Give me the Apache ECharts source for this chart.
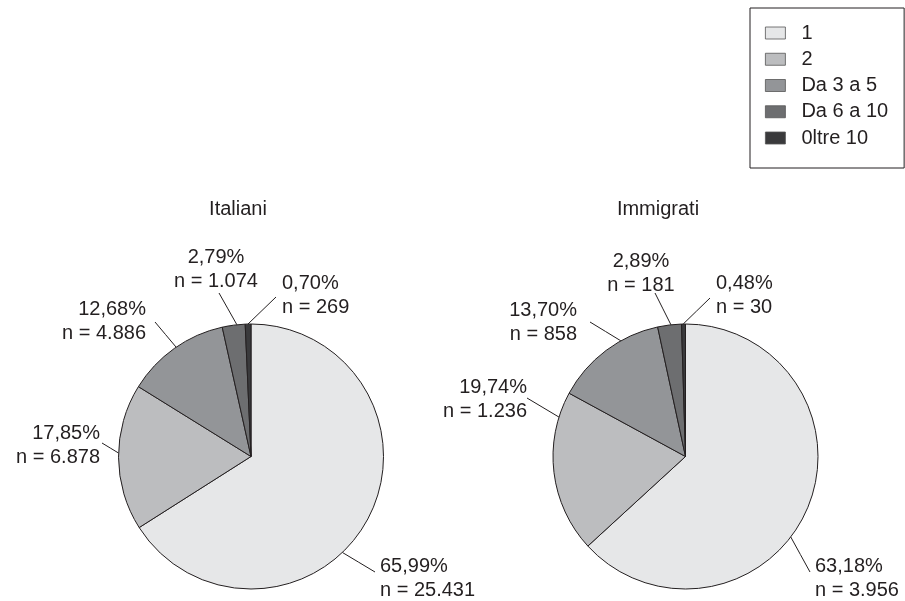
<!DOCTYPE html>
<html>
<head>
<meta charset="utf-8">
<script src="https://cdn.jsdelivr.net/npm/echarts@6/dist/echarts.min.js"></script>
<style>
  html, body { margin: 0; padding: 0; background: #fff; }
  #chart { width: 905px; height: 601px; }
</style>
</head>
<body>
<div id="chart"></div>
<script>
const categories = ["1", "2", "Da 3 a 5", "Da 6 a 10", "0ltre 10"];
const italiani = [25431, 6878, 4886, 1074, 269];
const immigrati = [3956, 1236, 858, 181, 30];
const groups = ["Italiani", "Immigrati"];

const colors = ["#e6e7e8", "#bcbdbf", "#939598", "#6d6e70", "#3a3a3c"];
const font = "'Liberation Sans', Arial, Helvetica, sans-serif";

const centers = [[251, 456.5], [685.5, 456.5]];
const radius = 132.5;

// label anchors [x, y, align] per pie, per slice
const labelPos = [
  [[380, 578, "left"], [100, 445, "right"], [146, 321, "right"], [216, 269, "center"], [282, 295, "left"]],
  [[815, 578, "left"], [527, 399, "right"], [577, 322, "right"], [641, 273, "center"], [716, 295, "left"]]
];
// leader lines: [angle on rim (deg, clockwise from top), end x, end y]
const leaders = [
  [[136.4, 375, 572], [271.5, 102, 443], [325.6, 155, 322], [353.9, 219, 293], [358.7, 276, 297]],
  [[127.4, 810, 572], [287.3, 527, 398], [330.8, 590, 322], [353.7, 655, 293], [359.0, 710, 298]]
];

function fmtN(v) {
  return String(v).replace(/\B(?=(\d{3})+(?!\d))/g, ".");
}

function makeSeries(name, values, idx) {
  const total = values.reduce((a, b) => a + b, 0);
  const c = centers[idx];
  return {
    name: name,
    type: "pie",
    center: c,
    radius: radius,
    startAngle: 90,
    clockwise: true,
    avoidLabelOverlap: false,
    silent: true,
    data: values.map((v, i) => ({
      name: categories[i],
      value: v,
      itemStyle: { color: colors[i] }
    })),
    itemStyle: { borderColor: "#231f20", borderWidth: 1 },
    label: {
      position: "outside",
      fontFamily: font,
      fontSize: 20,
      lineHeight: 24,
      color: "#231f20",
      formatter: p => (p.value / total * 100).toFixed(2).replace(".", ",") + "%\nn = " + fmtN(p.value)
    },
    labelLine: {
      show: true,
      length: 15,
      length2: 0,
      lineStyle: { color: "#231f20", width: 1 }
    },
    labelLayout: function (params) {
      const pos = labelPos[idx][params.dataIndex];
      const g = leaders[idx][params.dataIndex];
      const a = g[0] * Math.PI / 180;
      const start = [c[0] + radius * Math.sin(a), c[1] - radius * Math.cos(a)];
      return {
        x: pos[0], y: pos[1], align: pos[2], verticalAlign: "middle",
        labelLinePoints: [start, [(start[0] + g[1]) / 2, (start[1] + g[2]) / 2], [g[1], g[2]]]
      };
    }
  };
}

const chart = echarts.init(document.getElementById("chart"));
chart.setOption({
  animation: false,
  color: colors,
  title: [
    { text: groups[0], left: 233, top: 194, textAlign: "center",
      textStyle: { fontFamily: font, fontSize: 20, fontWeight: "normal", color: "#231f20" } },
    { text: groups[1], left: 653, top: 194, textAlign: "center",
      textStyle: { fontFamily: font, fontSize: 20, fontWeight: "normal", color: "#231f20" } }
  ],
  legend: {
    orient: "vertical",
    left: 750,
    top: 8,
    padding: [15, 16, 20, 15],
    borderColor: "#231f20",
    borderWidth: 1,
    icon: "rect",
    itemWidth: 20,
    itemHeight: 12,
    itemGap: 6.25,
    data: categories,
    itemStyle: { borderColor: "#555", borderWidth: 0.8 },
    textStyle: {
      fontFamily: font,
      fontSize: 20,
      lineHeight: 20,
      color: "#231f20",
      padding: [0, 0, 0, 11]
    }
  },
  series: [
    makeSeries(groups[0], italiani, 0),
    makeSeries(groups[1], immigrati, 1)
  ]
});
</script>
</body>
</html>
